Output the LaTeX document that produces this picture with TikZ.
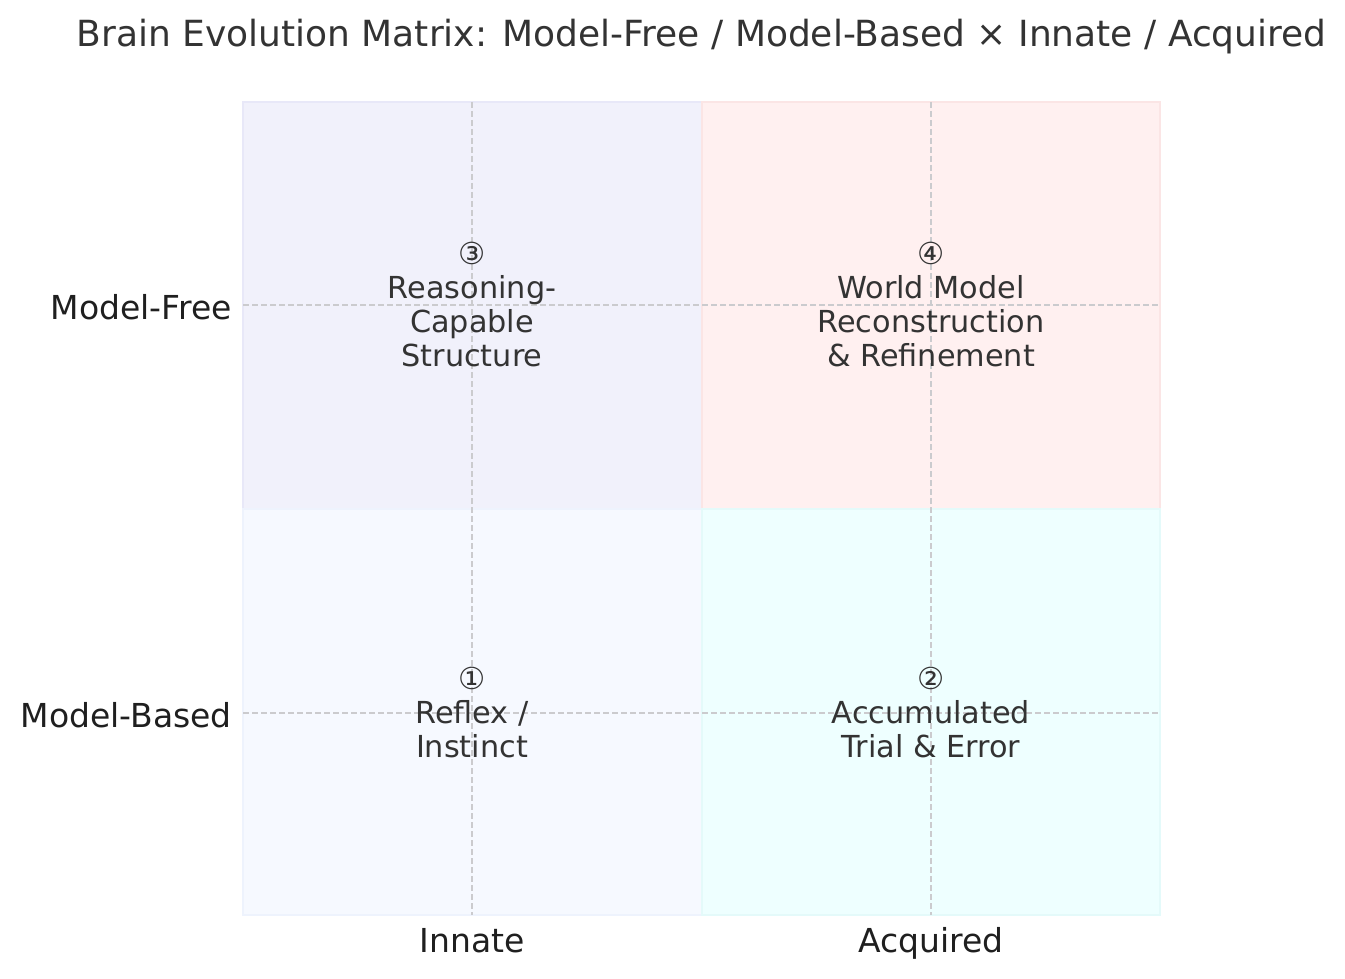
\documentclass[tikz,border=0pt]{standalone}
\usepackage{fontspec}
\setmainfont{DejaVu Sans}
\usepackage{xcolor}
\usetikzlibrary{positioning}
\definecolor{titlegray}{HTML}{333333}
\definecolor{tickgray}{HTML}{1F1F1F}
\definecolor{gridgray}{HTML}{CBCBCE}
\definecolor{lavfill}{HTML}{F1F1FB}
\definecolor{lavedge}{HTML}{E8E8F8}
\definecolor{rosefill}{HTML}{FFF0F0}
\definecolor{roseedge}{HTML}{FBE5E5}
\definecolor{alicefill}{HTML}{F6F9FF}
\definecolor{aliceedge}{HTML}{EEF3FD}
\definecolor{cyanfill}{HTML}{EEFFFF}
\definecolor{cyanedge}{HTML}{E4FAFA}
\tikzset{%
	cell/.style      = {line width=1.5pt}, % quadrant patch
	gridline/.style  = {draw=gridgray, line width=1.6pt, dash pattern=on 6pt off 3pt},
	quadtext/.style  = {text=titlegray, align=center, inner sep=0pt, font=\fontsize{30.3}{34}\selectfont},
	ticklabel/.style = {text=tickgray, inner sep=0pt, font=\fontsize{33}{38}\selectfont},
	titletext/.style = {text=titlegray, inner sep=0pt, font=\fontsize{36}{42}\selectfont},
}

\begin{document}
\begin{tikzpicture}[x=1pt,y=-1pt]
	\useasboundingbox (0,0) rectangle (1345,979);
	% quadrants
	\draw[cell,fill=lavfill,draw=lavedge] (243,102) rectangle (702,509);
	\draw[cell,fill=rosefill,draw=roseedge] (702,102) rectangle (1160,509);
	\draw[cell,fill=alicefill,draw=aliceedge] (243,509) rectangle (702,915);
	\draw[cell,fill=cyanfill,draw=cyanedge] (702,509) rectangle (1160,915);
	
	% grid
	\foreach \gx in {472,931} \draw[gridline] (\gx,102) -- (\gx,915);
	\foreach \gy in {305,713} \draw[gridline] (243,\gy) -- (1160,\gy);
	
	\node[quadtext] (reason) at (472,305) {③\\Reasoning-\\Capable\\Structure};
	\node[quadtext] (world) at (931,305) {④\\World Model\\Reconstruction\\\& Refinement};
	\node[quadtext] (reflex) at (472,713) {①\\Reflex /\\Instinct};
	\node[quadtext] (trial) at (931,713) {②\\Accumulated\\Trial \& Error};
	
	\node[ticklabel,anchor=east] (modelfree) at (232,307) {Model-Free};
	\node[ticklabel,anchor=east] (modelbased) at (232,715) {Model-Based};
	\node[ticklabel,anchor=base] (innate) at (472,952) {Innate};
	\node[ticklabel,anchor=base] (acquired) at (931,952) {Acquired};
	
	\node[titletext,anchor=base] (title) at (701.5,47) {Brain Evolution Matrix: Model-Free / Model-Based × Innate / Acquired};
\end{tikzpicture}
\end{document}
